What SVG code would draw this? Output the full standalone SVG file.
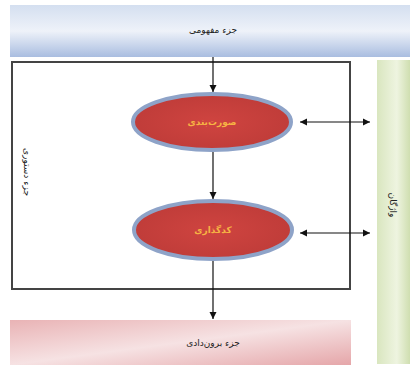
<svg xmlns="http://www.w3.org/2000/svg" width="410" height="367" viewBox="0 0 410 367">
<style>
text{font-family:"DejaVu Sans","Noto Sans",sans-serif;font-size:9px;fill:#222;text-anchor:middle;dominant-baseline:middle}
.node{stroke:#8ea3c8;stroke-width:4;fill:url(#red)}
.nt{fill:#f6b343;font-weight:bold}
.line{stroke:#111;stroke-width:1.2;fill:none}
</style>
<defs>
<linearGradient id="blue" x1="0" y1="0" x2="0" y2="1">
<stop offset="0" stop-color="#d4dff0"/><stop offset="0.5" stop-color="#eef2f9"/><stop offset="1" stop-color="#a9bde0"/>
</linearGradient>
<linearGradient id="green" x1="0" y1="0" x2="1" y2="0">
<stop offset="0" stop-color="#d9e6bf"/><stop offset="0.6" stop-color="#eef4e0"/><stop offset="1" stop-color="#cfdeb0"/>
</linearGradient>
<linearGradient id="pink" x1="0" y1="0" x2="1" y2="1">
<stop offset="0" stop-color="#e9b3b5"/><stop offset="0.5" stop-color="#f6e2e3"/><stop offset="1" stop-color="#e5a6a9"/>
</linearGradient>
<radialGradient id="red" cx="0.5" cy="0.5" r="0.6">
<stop offset="0" stop-color="#cf4440"/><stop offset="1" stop-color="#bd3b38"/>
</radialGradient>
<marker id="ah" viewBox="0 0 10 10" refX="10" refY="5" markerWidth="6" markerHeight="6" orient="auto-start-reverse">
<path d="M0,0 L10,5 L0,10 z" fill="#111"/>
</marker>
</defs>
<g id="conceptual">
<rect x="10" y="5" width="400" height="52" fill="url(#blue)"/>
<text x="213" y="30">جزء مفهومی</text>
</g>
<g id="grammatical">
<rect x="12" y="62" width="338" height="227" fill="#fff" stroke="#444" stroke-width="2"/>
<text x="26" y="172" transform="rotate(90 26 172)">جزء دستوری</text>
</g>
<g id="lexicon">
<rect x="377" y="60" width="33" height="304" fill="url(#green)"/>
<text x="392" y="205" transform="rotate(90 392 205)">واژگان</text>
</g>
<g id="output">
<rect x="10" y="320" width="341" height="45" fill="url(#pink)"/>
<text x="213" y="343">جزء برون‌دادی</text>
</g>
<g id="formulation">
<ellipse class="node" cx="212" cy="122" rx="79" ry="28"/>
<text class="nt" x="212" y="122">صورت‌بندی</text>
</g>
<g id="encoding">
<ellipse class="node" cx="213" cy="230" rx="79" ry="29"/>
<text class="nt" x="213" y="230">کدگذاری</text>
</g>
<g id="connectors">
<line class="line" x1="213" y1="57" x2="213" y2="92" marker-end="url(#ah)"/>
<line class="line" x1="213" y1="152" x2="213" y2="199" marker-end="url(#ah)"/>
<line class="line" x1="213" y1="261" x2="213" y2="319" marker-end="url(#ah)"/>
<line class="line" x1="300" y1="122" x2="370" y2="122" marker-start="url(#ah)" marker-end="url(#ah)"/>
<line class="line" x1="300" y1="233" x2="370" y2="233" marker-start="url(#ah)" marker-end="url(#ah)"/>
</g>
</svg>
